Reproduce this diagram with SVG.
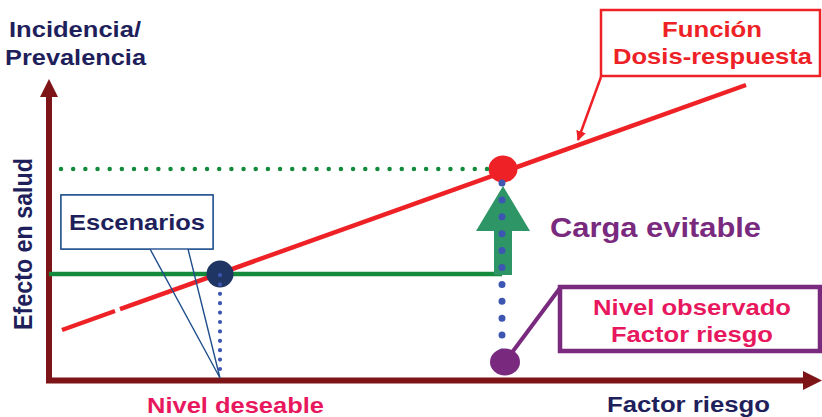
<svg xmlns="http://www.w3.org/2000/svg" width="822" height="417" viewBox="0 0 822 417">
<defs>
<style>
text{font-family:"Liberation Sans",Arial,sans-serif;font-weight:bold;font-size:22px}
.navy{fill:#1f1f5c}
.pink{fill:#e8185e}
.red{fill:#ee2226}
.purple{fill:#7a2a7e}
.axis{stroke:#7d1418;stroke-width:6;fill:none}
.rl{stroke:#ee2226;stroke-width:4.5;fill:none}
</style>
<marker id="ah" viewBox="0 0 10 10" refX="9" refY="5" markerWidth="10" markerHeight="10" markerUnits="userSpaceOnUse" orient="auto">
<path d="M0,0 L10,5 L0,10 Z" fill="#ee2226"/>
</marker>
</defs>
<rect width="822" height="417" fill="#ffffff"/>

<g id="axes">
<line class="axis" x1="49" y1="383" x2="49" y2="95"/>
<polygon points="40,97 49,79 58,97" fill="#7d1418"/>
<line class="axis" x1="46" y1="380.5" x2="805" y2="380.5"/>
<polygon points="803,371 822,380.5 803,390" fill="#7d1418"/>
</g>

<g id="axis-labels">
<text class="navy" x="9" y="37" textLength="132" lengthAdjust="spacingAndGlyphs">Incidencia/</text>
<text class="navy" x="5" y="65" textLength="141" lengthAdjust="spacingAndGlyphs">Prevalencia</text>
<text class="navy" transform="translate(32,330) rotate(-90) scale(1,1.16)" font-size="23" style="font-size:23px" textLength="172" lengthAdjust="spacingAndGlyphs">Efecto en salud</text>
<text class="navy" x="607" y="412" textLength="163" lengthAdjust="spacingAndGlyphs">Factor riesgo</text>
<text class="pink" x="147" y="413" textLength="177" lengthAdjust="spacingAndGlyphs">Nivel deseable</text>
</g>

<g id="connectors">
<line x1="49" y1="274" x2="502" y2="274" stroke="#148a3c" stroke-width="4.5"/>
<line class="rl" x1="62" y1="330" x2="115" y2="311"/>
<line class="rl" x1="120" y1="309.2" x2="746" y2="85"/>
<line x1="601" y1="77" x2="578" y2="140" stroke="#ee2226" stroke-width="2.5" marker-end="url(#ah)"/>
<line x1="560" y1="288" x2="505" y2="362" stroke="#7a2a7e" stroke-width="4"/>
</g>

<g id="escenarios">
<path d="M61,195 H213 V249 H188 L220,378 L150,249 H61 Z" fill="none" stroke="#1f4e8c" stroke-width="1.4"/>
<rect x="61" y="195" width="152" height="54" fill="#ffffff" stroke="#1f4e8c" stroke-width="1.4"/>
<text class="navy" x="69" y="230" textLength="136" lengthAdjust="spacingAndGlyphs">Escenarios</text>
</g>

<g id="nivel-deseable-point">
<ellipse cx="220" cy="274" rx="13.5" ry="13.5" fill="#1f3563"/>
<line x1="220" y1="275" x2="220" y2="370" stroke="#3d56b2" stroke-width="4.2" stroke-linecap="round" stroke-dasharray="0 9.4"/>
</g>

<g id="dose-point">
<ellipse cx="503" cy="169" rx="14.5" ry="13.5" fill="#ee2226"/>
<line x1="61" y1="169" x2="499" y2="169" stroke="#148a3c" stroke-width="4.5" stroke-linecap="round" stroke-dasharray="0 12.17"/>
</g>

<g id="carga-evitable">
<polygon points="494,275 494,231 476,231 503,186 530,231 512,231 512,275" fill="#2e9566"/>
<line x1="502" y1="183" x2="502" y2="352" stroke="#3d56b2" stroke-width="7" stroke-linecap="round" stroke-dasharray="0 16.9"/>
<text class="purple" x="550" y="237" style="font-size:27px" textLength="211" lengthAdjust="spacingAndGlyphs">Carga evitable</text>
</g>

<g id="nivel-observado">
<ellipse cx="505" cy="362" rx="15" ry="13.5" fill="#7a2a7e"/>
<rect x="560" y="287" width="260" height="64" fill="#ffffff" stroke="#7a2a7e" stroke-width="4.5"/>
<text class="pink" x="593" y="315" textLength="198" lengthAdjust="spacingAndGlyphs">Nivel observado</text>
<text class="pink" x="611" y="342" textLength="162" lengthAdjust="spacingAndGlyphs">Factor riesgo</text>
</g>

<g id="funcion">
<rect x="601" y="10" width="219" height="66" fill="#ffffff" stroke="#ee2226" stroke-width="2.5"/>
<text class="red" x="662" y="37" textLength="100" lengthAdjust="spacingAndGlyphs">Función</text>
<text class="red" x="613" y="64" textLength="199" lengthAdjust="spacingAndGlyphs">Dosis-respuesta</text>
</g>
</svg>
